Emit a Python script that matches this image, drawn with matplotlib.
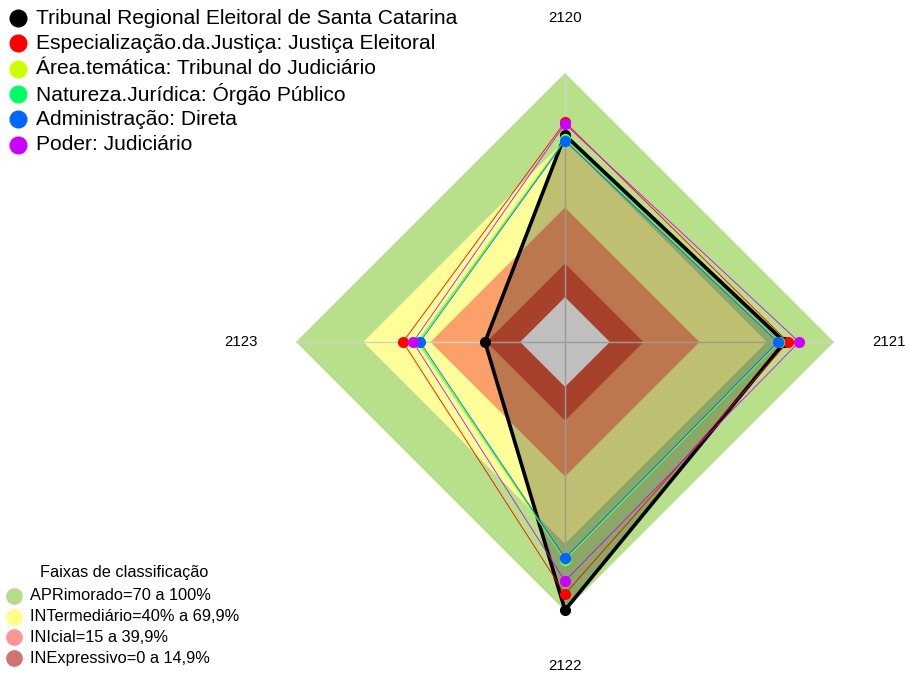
import numpy as np
import matplotlib.pyplot as plt
from matplotlib.lines import Line2D

plt.rcParams['font.family'] = ['Liberation Sans', 'DejaVu Sans']

# eixos do radar
eixos = ['2120', '2121', '2122', '2123']

# valores (%) por eixo
tribunal = [72.3, 78.0, 99.6, 15.7]
especializacao = [78.1, 79.5, 92.4, 52.3]
area_tematica = [70.6, 75.6, 77.2, 46.2]
natureza = [70.2, 75.3, 76.8, 45.5]
administracao = [69.7, 75.0, 76.4, 44.7]
poder = [77.2, 84.4, 86.6, 47.8]

series = [tribunal, especializacao, area_tematica, natureza, administracao, poder]
series_nomes = ['Tribunal Regional Eleitoral de Santa Catarina',
                'Especialização.da.Justiça: Justiça Eleitoral',
                'Área.temática: Tribunal do Judiciário',
                'Natureza.Jurídica: Órgão Público',
                'Administração: Direta',
                'Poder: Judiciário']
series_cores = ['black', '#FF0000', '#CCFF00', '#00FF66', '#0066FF', '#CC00FF']

# faixas de classificacao
faixas_limites = [100, 70, 40, 15]
faixas_cores = ['#b8df8a', '#ffff99', '#fca06a', '#e0573a']
faixas_rotulos = ['APRimorado=70 a 100%', 'INTermediário=40% a 69,9%',
                  'INIcial=15 a 39,9%', 'INExpressivo=0 a 14,9%']
faixas_legenda_cores = ['#b5dc8a', '#ffff88', '#ff9595', '#d27373']

W, H = 905, 675
fig = plt.figure(figsize=(W / 100, H / 100), dpi=100)

# eixo polar centrado em (565, 342) px, raio 269 px
cx, cy, R = 565, 342, 269
ax = fig.add_axes([(cx - R) / W, 1 - (cy + R) / H, 2 * R / W, 2 * R / H],
                  projection='polar')
ax.set_theta_offset(np.pi / 2)
ax.set_theta_direction(-1)
ax.set_ylim(-20, 100)
ax.grid(False)
ax.spines['polar'].set_visible(False)
ax.set_xticks([])
ax.set_yticks([])
ax.patch.set_alpha(0)

ang = np.linspace(0, 2 * np.pi, len(eixos), endpoint=False)
ang_f = np.append(ang, ang[0])

# faixas de fundo
for lim, cor in zip(faixas_limites, faixas_cores):
    ax.fill(ang_f, [lim] * len(ang_f), color=cor, lw=0, zorder=1)
ax.fill(ang_f, [0] * len(ang_f), color='white', lw=0, zorder=1)

# linhas dos eixos
for a in ang:
    ax.plot([a, a], [-20, 100], color='#d0d0d0', lw=1, zorder=2)

# series
for i, (vals, cor) in enumerate(zip(series, series_cores)):
    v = np.append(vals, vals[0])
    if i == 0:
        ax.fill(ang_f, v, color='black', alpha=0.25, lw=0, zorder=3)
        ax.plot(ang_f, v, color=cor, lw=2.6, zorder=4)
    else:
        ax.plot(ang_f, v, color=cor, lw=0.6, zorder=4)
for vals, cor in zip(series, series_cores):
    ax.plot(ang, vals, 'o', color=cor, ms=7, zorder=5, clip_on=False)

for a, rot in zip(ang, eixos):
    ax.text(a, 124.5, rot, ha='center', va='center', fontsize=10.8)

# legenda das series
for i, (nome, cor) in enumerate(zip(series_nomes, series_cores)):
    y = 1 - (18 + i * 25.3) / H
    fig.add_artist(Line2D([18 / W], [y], marker='o', ms=12, color=cor,
                          transform=fig.transFigure))
    fig.text(36 / W, y, nome, fontsize=15.1, va='center', ha='left')

# legenda das faixas
fig.text(124 / W, 1 - 572 / H, 'Faixas de classificação', fontsize=11.7,
         ha='center', va='center')
for i, (rot, cor) in enumerate(zip(faixas_rotulos, faixas_legenda_cores)):
    y = 1 - (596 + i * 20.7) / H
    fig.add_artist(Line2D([14 / W], [y], marker='o', ms=11, color=cor,
                          transform=fig.transFigure))
    fig.text(30 / W, y, rot, fontsize=11.8, va='center', ha='left')

fig.savefig('out.png', dpi=100, facecolor='white')
